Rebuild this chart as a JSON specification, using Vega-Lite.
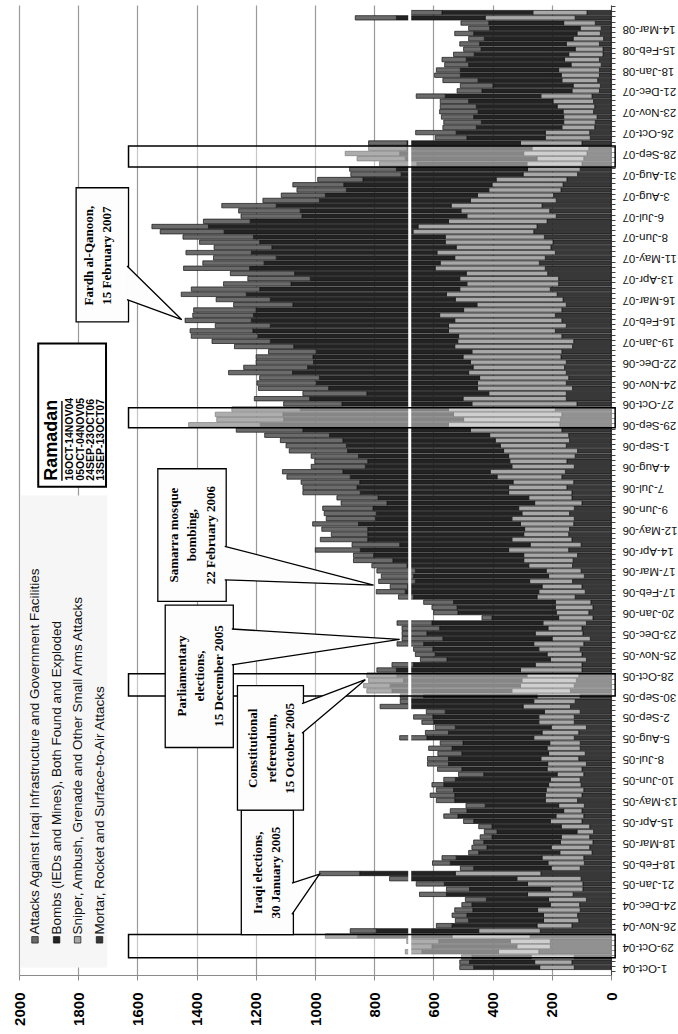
{
  "$schema": "https://vega.github.io/schema/vega-lite/v6.json",
  "width": 592,
  "height": 970,
  "autosize": "none",
  "padding": {"left": 19, "top": 5, "right": 67, "bottom": 59},
  "background": "white",
  "config": {"view": {"stroke": null}, "font": "Liberation Sans"},
  "datasets": {
    "weeks": [
      {"d":"2004-10-01","m":124,"s":117,"b":223,"a":47},
      {"d":"2004-10-08","m":132,"s":126,"b":220,"a":33},
      {"d":"2004-10-15","m":124,"s":146,"b":200,"a":35},
      {"d":"2004-10-22","m":244,"s":136,"b":259,"a":56},
      {"d":"2004-10-29","m":205,"s":113,"b":287,"a":75},
      {"d":"2004-11-05","m":205,"s":135,"b":242,"a":108},
      {"d":"2004-11-12","m":273,"s":264,"b":319,"a":109},
      {"d":"2004-11-19","m":239,"s":208,"b":346,"a":88},
      {"d":"2004-11-26","m":132,"s":118,"b":287,"a":53},
      {"d":"2004-12-03","m":109,"s":119,"b":253,"a":45},
      {"d":"2004-12-10","m":113,"s":115,"b":259,"a":50},
      {"d":"2004-12-17","m":104,"s":144,"b":219,"a":61},
      {"d":"2004-12-24","m":106,"s":99,"b":265,"a":34},
      {"d":"2004-12-31","m":83,"s":128,"b":210,"a":71},
      {"d":"2005-01-07","m":128,"s":154,"b":274,"a":91},
      {"d":"2005-01-14","m":95,"s":110,"b":273,"a":78},
      {"d":"2005-01-21","m":95,"s":187,"b":281,"a":95},
      {"d":"2005-01-28","m":101,"s":217,"b":360,"a":70},
      {"d":"2005-02-04","m":237,"s":289,"b":323,"a":136},
      {"d":"2005-02-11","m":104,"s":98,"b":262,"a":45},
      {"d":"2005-02-18","m":90,"s":123,"b":330,"a":60},
      {"d":"2005-02-25","m":92,"s":141,"b":290,"a":48},
      {"d":"2005-03-04","m":64,"s":109,"b":274,"a":34},
      {"d":"2005-03-11","m":72,"s":130,"b":217,"a":51},
      {"d":"2005-03-18","m":61,"s":110,"b":259,"a":34},
      {"d":"2005-03-25","m":72,"s":96,"b":234,"a":40},
      {"d":"2005-04-01","m":59,"s":56,"b":270,"a":43},
      {"d":"2005-04-08","m":72,"s":96,"b":234,"a":45},
      {"d":"2005-04-15","m":98,"s":107,"b":259,"a":34},
      {"d":"2005-04-22","m":92,"s":94,"b":331,"a":48},
      {"d":"2005-04-29","m":98,"s":62,"b":327,"a":56},
      {"d":"2005-05-06","m":90,"s":87,"b":248,"a":65},
      {"d":"2005-05-13","m":113,"s":109,"b":306,"a":62},
      {"d":"2005-05-20","m":98,"s":124,"b":306,"a":83},
      {"d":"2005-05-27","m":92,"s":127,"b":313,"a":58},
      {"d":"2005-06-03","m":101,"s":110,"b":354,"a":40},
      {"d":"2005-06-10","m":104,"s":101,"b":321,"a":39},
      {"d":"2005-06-17","m":92,"s":90,"b":248,"a":85},
      {"d":"2005-06-24","m":98,"s":118,"b":288,"a":82},
      {"d":"2005-07-01","m":83,"s":131,"b":335,"a":71},
      {"d":"2005-07-08","m":109,"s":128,"b":312,"a":71},
      {"d":"2005-07-15","m":87,"s":124,"b":293,"a":81},
      {"d":"2005-07-22","m":104,"s":112,"b":321,"a":79},
      {"d":"2005-07-29","m":104,"s":103,"b":293,"a":77},
      {"d":"2005-08-05","m":124,"s":137,"b":361,"a":92},
      {"d":"2005-08-12","m":109,"s":124,"b":316,"a":78},
      {"d":"2005-08-19","m":83,"s":119,"b":324,"a":68},
      {"d":"2005-08-26","m":124,"s":120,"b":355,"a":40},
      {"d":"2005-09-02","m":124,"s":120,"b":358,"a":65},
      {"d":"2005-09-09","m":104,"s":121,"b":335,"a":64},
      {"d":"2005-09-16","m":137,"s":160,"b":387,"a":96},
      {"d":"2005-09-23","m":121,"s":140,"b":417,"a":34},
      {"d":"2005-09-30","m":104,"s":146,"b":383,"a":79},
      {"d":"2005-10-07","m":137,"s":198,"b":405,"a":85},
      {"d":"2005-10-14","m":124,"s":182,"b":440,"a":90},
      {"d":"2005-10-21","m":117,"s":184,"b":400,"a":118},
      {"d":"2005-10-28","m":109,"s":175,"b":439,"a":102},
      {"d":"2005-11-04","m":98,"s":208,"b":419,"a":66},
      {"d":"2005-11-11","m":98,"s":158,"b":411,"a":73},
      {"d":"2005-11-18","m":83,"s":122,"b":349,"a":90},
      {"d":"2005-11-25","m":98,"s":118,"b":378,"a":67},
      {"d":"2005-12-02","m":104,"s":140,"b":358,"a":65},
      {"d":"2005-12-09","m":92,"s":169,"b":372,"a":90},
      {"d":"2005-12-16","m":70,"s":129,"b":369,"a":138},
      {"d":"2005-12-23","m":95,"s":161,"b":366,"a":84},
      {"d":"2005-12-30","m":98,"s":115,"b":366,"a":127},
      {"d":"2006-01-06","m":83,"s":147,"b":375,"a":118},
      {"d":"2006-01-13","m":61,"s":116,"b":225,"a":34},
      {"d":"2006-01-20","m":75,"s":110,"b":332,"a":82},
      {"d":"2006-01-27","m":61,"s":127,"b":332,"a":85},
      {"d":"2006-02-03","m":68,"s":120,"b":344,"a":101},
      {"d":"2006-02-10","m":121,"s":129,"b":417,"a":51},
      {"d":"2006-02-17","m":87,"s":157,"b":451,"a":98},
      {"d":"2006-02-24","m":98,"s":135,"b":454,"a":59},
      {"d":"2006-03-03","m":130,"s":145,"b":386,"a":124},
      {"d":"2006-03-10","m":90,"s":121,"b":456,"a":109},
      {"d":"2006-03-17","m":101,"s":118,"b":442,"a":130},
      {"d":"2006-03-24","m":130,"s":148,"b":411,"a":119},
      {"d":"2006-03-31","m":128,"s":167,"b":442,"a":133},
      {"d":"2006-04-07","m":113,"s":182,"b":507,"a":68},
      {"d":"2006-04-14","m":143,"s":203,"b":501,"a":152},
      {"d":"2006-04-21","m":101,"s":172,"b":441,"a":161},
      {"d":"2006-04-28","m":132,"s":203,"b":487,"a":160},
      {"d":"2006-05-05","m":143,"s":152,"b":527,"a":123},
      {"d":"2006-05-12","m":140,"s":152,"b":530,"a":155},
      {"d":"2006-05-19","m":126,"s":180,"b":547,"a":155},
      {"d":"2006-05-26","m":124,"s":211,"b":461,"a":166},
      {"d":"2006-06-02","m":140,"s":161,"b":492,"a":176},
      {"d":"2006-06-09","m":124,"s":188,"b":492,"a":170},
      {"d":"2006-06-16","m":98,"s":160,"b":499,"a":155},
      {"d":"2006-06-23","m":132,"s":146,"b":509,"a":139},
      {"d":"2006-06-30","m":132,"s":214,"b":501,"a":194},
      {"d":"2006-07-07","m":149,"s":197,"b":512,"a":183},
      {"d":"2006-07-14","m":126,"s":205,"b":518,"a":198},
      {"d":"2006-07-21","m":166,"s":219,"b":496,"a":214},
      {"d":"2006-07-28","m":154,"s":254,"b":498,"a":204},
      {"d":"2006-08-04","m":124,"s":211,"b":495,"a":183},
      {"d":"2006-08-11","m":149,"s":193,"b":480,"a":179},
      {"d":"2006-08-18","m":121,"s":225,"b":507,"a":160},
      {"d":"2006-08-25","m":113,"s":250,"b":527,"a":197},
      {"d":"2006-09-01","m":151,"s":223,"b":520,"a":204},
      {"d":"2006-09-08","m":140,"s":251,"b":515,"a":211},
      {"d":"2006-09-15","m":143,"s":267,"b":541,"a":219},
      {"d":"2006-09-22","m":166,"s":309,"b":566,"a":225},
      {"d":"2006-09-29","m":173,"s":376,"b":636,"a":242},
      {"d":"2006-10-06","m":171,"s":327,"b":608,"a":226},
      {"d":"2006-10-13","m":166,"s":366,"b":576,"a":229},
      {"d":"2006-10-20","m":188,"s":361,"b":501,"a":231},
      {"d":"2006-10-27","m":115,"s":355,"b":439,"a":197},
      {"d":"2006-11-03","m":151,"s":349,"b":518,"a":187},
      {"d":"2006-11-10","m":151,"s":262,"b":412,"a":216},
      {"d":"2006-11-17","m":130,"s":321,"b":503,"a":237},
      {"d":"2006-11-24","m":151,"s":300,"b":545,"a":200},
      {"d":"2006-12-01","m":143,"s":301,"b":541,"a":202},
      {"d":"2006-12-08","m":151,"s":330,"b":595,"a":216},
      {"d":"2006-12-15","m":157,"s":309,"b":559,"a":216},
      {"d":"2006-12-22","m":151,"s":324,"b":530,"a":194},
      {"d":"2006-12-29","m":169,"s":331,"b":507,"a":192},
      {"d":"2007-01-05","m":166,"s":304,"b":526,"a":161},
      {"d":"2007-01-12","m":130,"s":398,"b":544,"a":200},
      {"d":"2007-01-19","m":126,"s":392,"b":633,"a":197},
      {"d":"2007-01-26","m":166,"s":349,"b":678,"a":225},
      {"d":"2007-02-02","m":188,"s":361,"b":661,"a":212},
      {"d":"2007-02-09","m":151,"s":398,"b":602,"a":186},
      {"d":"2007-02-16","m":166,"s":362,"b":687,"a":224},
      {"d":"2007-02-23","m":188,"s":391,"b":629,"a":205},
      {"d":"2007-03-02","m":166,"s":332,"b":701,"a":211},
      {"d":"2007-03-09","m":151,"s":302,"b":622,"a":200},
      {"d":"2007-03-16","m":162,"s":364,"b":625,"a":183},
      {"d":"2007-03-23","m":182,"s":374,"b":676,"a":220},
      {"d":"2007-03-30","m":205,"s":306,"b":676,"a":231},
      {"d":"2007-04-06","m":177,"s":310,"b":594,"a":228},
      {"d":"2007-04-13","m":177,"s":334,"b":505,"a":211},
      {"d":"2007-04-20","m":214,"s":275,"b":580,"a":217},
      {"d":"2007-04-27","m":222,"s":372,"b":627,"a":223},
      {"d":"2007-05-04","m":242,"s":335,"b":595,"a":207},
      {"d":"2007-05-11","m":222,"s":306,"b":603,"a":212},
      {"d":"2007-05-18","m":188,"s":400,"b":627,"a":221},
      {"d":"2007-05-25","m":203,"s":320,"b":623,"a":195},
      {"d":"2007-06-01","m":196,"s":364,"b":627,"a":203},
      {"d":"2007-06-08","m":225,"s":335,"b":648,"a":238},
      {"d":"2007-06-15","m":261,"s":408,"b":638,"a":216},
      {"d":"2007-06-22","m":250,"s":402,"b":708,"a":191},
      {"d":"2007-06-29","m":216,"s":333,"b":670,"a":158},
      {"d":"2007-07-06","m":185,"s":302,"b":557,"a":206},
      {"d":"2007-07-13","m":207,"s":300,"b":543,"a":208},
      {"d":"2007-07-20","m":233,"s":307,"b":591,"a":184},
      {"d":"2007-07-27","m":185,"s":290,"b":510,"a":191},
      {"d":"2007-08-03","m":194,"s":257,"b":514,"a":149},
      {"d":"2007-08-10","m":169,"s":244,"b":481,"a":167},
      {"d":"2007-08-17","m":162,"s":240,"b":501,"a":172},
      {"d":"2007-08-24","m":149,"s":239,"b":450,"a":153},
      {"d":"2007-08-31","m":113,"s":184,"b":412,"a":170},
      {"d":"2007-09-07","m":104,"s":178,"b":443,"a":158},
      {"d":"2007-09-14","m":98,"s":186,"b":372,"a":126},
      {"d":"2007-09-21","m":92,"s":158,"b":445,"a":163},
      {"d":"2007-09-28","m":81,"s":214,"b":419,"a":184},
      {"d":"2007-10-05","m":75,"s":192,"b":422,"a":130},
      {"d":"2007-10-12","m":98,"s":208,"b":383,"a":130},
      {"d":"2007-10-19","m":70,"s":152,"b":265,"a":107},
      {"d":"2007-10-26","m":72,"s":150,"b":301,"a":137},
      {"d":"2007-11-02","m":55,"s":111,"b":289,"a":113},
      {"d":"2007-11-09","m":53,"s":107,"b":278,"a":127},
      {"d":"2007-11-16","m":47,"s":113,"b":304,"a":109},
      {"d":"2007-11-23","m":59,"s":103,"b":287,"a":130},
      {"d":"2007-11-30","m":55,"s":127,"b":273,"a":122},
      {"d":"2007-12-07","m":59,"s":137,"b":285,"a":96},
      {"d":"2007-12-14","m":64,"s":173,"b":323,"a":98},
      {"d":"2007-12-21","m":39,"s":93,"b":304,"a":84},
      {"d":"2007-12-28","m":36,"s":92,"b":271,"a":110},
      {"d":"2008-01-04","m":45,"s":121,"b":283,"a":119},
      {"d":"2008-01-11","m":39,"s":129,"b":341,"a":87},
      {"d":"2008-01-18","m":39,"s":138,"b":332,"a":81},
      {"d":"2008-01-25","m":33,"s":102,"b":346,"a":81},
      {"d":"2008-02-01","m":39,"s":118,"b":332,"a":82},
      {"d":"2008-02-08","m":27,"s":116,"b":319,"a":70},
      {"d":"2008-02-15","m":27,"s":94,"b":318,"a":59},
      {"d":"2008-02-22","m":39,"s":112,"b":293,"a":67},
      {"d":"2008-02-29","m":25,"s":103,"b":300,"a":53},
      {"d":"2008-03-07","m":36,"s":79,"b":349,"a":64},
      {"d":"2008-03-14","m":33,"s":71,"b":306,"a":71},
      {"d":"2008-03-21","m":53,"s":107,"b":253,"a":94},
      {"d":"2008-03-28","m":121,"s":304,"b":300,"a":139},
      {"d":"2008-04-04","m":81,"s":183,"b":307,"a":104}
    ],
    "boxes": [
      {"id":"iraqi","v1":1073,"v2":1249,"t1":"2004-11-14","t2":"2005-04-30"},
      {"id":"const","v1":1039,"v2":1262,"t1":"2005-04-30","t2":"2005-10-14"},
      {"id":"parl","v1":1276,"v2":1506,"t1":"2005-07-23","t2":"2006-01-30"},
      {"id":"samarra","v1":1300,"v2":1531,"t1":"2006-02-04","t2":"2006-08-01"},
      {"id":"fardh","v1":1630,"v2":1807,"t1":"2007-02-14","t2":"2007-08-13"}
    ],
    "pointers": [
      {"id":"iraqi","o":1,"v":1078,"t":"2005-01-22"},
      {"id":"iraqi","o":2,"v":985,"t":"2005-02-03"},
      {"id":"iraqi","o":3,"v":1078,"t":"2004-12-11"},
      {"id":"const","o":1,"v":1044,"t":"2005-09-20"},
      {"id":"const","o":2,"v":830,"t":"2005-10-22"},
      {"id":"const","o":3,"v":1044,"t":"2005-08-11"},
      {"id":"parl","o":1,"v":1281,"t":"2005-12-29"},
      {"id":"parl","o":2,"v":714,"t":"2005-12-15"},
      {"id":"parl","o":3,"v":1281,"t":"2005-11-11"},
      {"id":"samarra","o":1,"v":1305,"t":"2006-04-19"},
      {"id":"samarra","o":2,"v":802,"t":"2006-02-26"},
      {"id":"samarra","o":3,"v":1305,"t":"2006-03-05"},
      {"id":"fardh","o":1,"v":1635,"t":"2007-04-30"},
      {"id":"fardh","o":2,"v":1450,"t":"2007-02-17"},
      {"id":"fardh","o":3,"v":1635,"t":"2007-03-16"}
    ],
    "notes": [
      {"v":1194,"t":"2005-02-05","label":"Iraqi elections,\n30 January 2005"},
      {"v":1208,"t":"2005-07-22","label":"Constitutional\nreferendum,\n15 October 2005"},
      {"v":1450,"t":"2005-10-27","label":"Parliamentary\nelections,\n15 December 2005"},
      {"v":1478,"t":"2006-05-04","label":"Samarra mosque\nbombing,\n22 February 2006"},
      {"v":1764,"t":"2007-05-14","label":"Fardh al-Qanoon,\n15 February 2007"}
    ],
    "legend": [
      {"v":1946,"series":"a","label":"Attacks Against Iraqi Infrastructure and Government Facilities"},
      {"v":1873,"series":"b","label":"Bombs (IEDs and Mines), Both Found and Exploded"},
      {"v":1802,"series":"s","label":"Sniper, Ambush, Grenade and Other Small Arms Attacks"},
      {"v":1728,"series":"m","label":"Mortar, Rocket and Surface-to-Air Attacks"}
    ],
    "ramadan": [
      {"v": 1827, "label": "16OCT-14NOV04"},
      {"v": 1792, "label": "05OCT-04NOV05"},
      {"v": 1757, "label": "24SEP-23OCT06"},
      {"v": 1722, "label": "13SEP-13OCT07"}
    ]
  },
  "layer": [
    {
      "data": {"name": "weeks"},
      "transform": [
        {"fold": ["m", "s", "b", "a"], "as": ["series", "n"]},
        {"lookup": "series", "from": {"data": {"values": [{"series":"m","rank":1},{"series":"s","rank":2},{"series":"b","rank":3},{"series":"a","rank":4}]}, "key": "series", "fields": ["rank"]}}
      ],
      "mark": {"type": "bar", "orient": "horizontal", "size": 4.4, "stroke": "#141414", "strokeWidth": 0.7},
      "encoding": {
        "y": {
          "field": "d", "type": "temporal", "title": null,
          "scale": {"type": "utc", "domain": [{"year":2004,"month":9,"date":27,"hours":12,"utc":true},{"year":2008,"month":4,"date":7,"hours":12,"utc":true}]},
          "axis": {
            "orient": "right",
            "values": [
              {"year":2004,"month":10,"date":1,"utc":true},{"year":2004,"month":10,"date":29,"utc":true},{"year":2004,"month":11,"date":26,"utc":true},{"year":2004,"month":12,"date":24,"utc":true},
              {"year":2005,"month":1,"date":21,"utc":true},{"year":2005,"month":2,"date":18,"utc":true},{"year":2005,"month":3,"date":18,"utc":true},{"year":2005,"month":4,"date":15,"utc":true},
              {"year":2005,"month":5,"date":13,"utc":true},{"year":2005,"month":6,"date":10,"utc":true},{"year":2005,"month":7,"date":8,"utc":true},{"year":2005,"month":8,"date":5,"utc":true},
              {"year":2005,"month":9,"date":2,"utc":true},{"year":2005,"month":9,"date":30,"utc":true},{"year":2005,"month":10,"date":28,"utc":true},{"year":2005,"month":11,"date":25,"utc":true},
              {"year":2005,"month":12,"date":23,"utc":true},{"year":2006,"month":1,"date":20,"utc":true},{"year":2006,"month":2,"date":17,"utc":true},{"year":2006,"month":3,"date":17,"utc":true},
              {"year":2006,"month":4,"date":14,"utc":true},{"year":2006,"month":5,"date":12,"utc":true},{"year":2006,"month":6,"date":9,"utc":true},{"year":2006,"month":7,"date":7,"utc":true},
              {"year":2006,"month":8,"date":4,"utc":true},{"year":2006,"month":9,"date":1,"utc":true},{"year":2006,"month":9,"date":29,"utc":true},{"year":2006,"month":10,"date":27,"utc":true},
              {"year":2006,"month":11,"date":24,"utc":true},{"year":2006,"month":12,"date":22,"utc":true},{"year":2007,"month":1,"date":19,"utc":true},{"year":2007,"month":2,"date":16,"utc":true},
              {"year":2007,"month":3,"date":16,"utc":true},{"year":2007,"month":4,"date":13,"utc":true},{"year":2007,"month":5,"date":11,"utc":true},{"year":2007,"month":6,"date":8,"utc":true},
              {"year":2007,"month":7,"date":6,"utc":true},{"year":2007,"month":8,"date":3,"utc":true},{"year":2007,"month":8,"date":31,"utc":true},{"year":2007,"month":9,"date":28,"utc":true},
              {"year":2007,"month":10,"date":26,"utc":true},{"year":2007,"month":11,"date":23,"utc":true},{"year":2007,"month":12,"date":21,"utc":true},{"year":2008,"month":1,"date":18,"utc":true},
              {"year":2008,"month":2,"date":15,"utc":true},{"year":2008,"month":3,"date":14,"utc":true}
            ],
            "format": "%-d-%b-%y",
            "ticks": false,
            "domain": true,
            "domainColor": "#444444",
            "grid": false,
            "labelAngle": 180,
            "labelAlign": "right",
            "labelBaseline": "middle",
            "labelFont": "Liberation Sans",
            "labelFontSize": 11.5,
            "labelColor": "#111111",
            "labelPadding": 11,
            "labelOverlap": false,
            "title": null
          }
        },
        "x": {
          "field": "n", "type": "quantitative", "stack": "zero", "title": null,
          "scale": {"domain": [0, 2000], "reverse": true, "nice": false, "zero": true},
          "axis": {
            "orient": "bottom",
            "values": [0, 200, 400, 600, 800, 1000, 1200, 1400, 1600, 1800, 2000],
            "format": "d",
            "grid": true,
            "gridColor": "#9a9a9a",
            "gridWidth": 1.2,
            "domainColor": "#8a8a8a",
            "tickColor": "#8a8a8a",
            "tickSize": 5,
            "labelAngle": -90,
            "labelAlign": "right",
            "labelBaseline": "middle",
            "labelFont": "Liberation Sans",
            "labelFontSize": 15,
            "labelFontWeight": "bold",
            "labelColor": "#000000",
            "labelPadding": 12,
            "labelOverlap": false,
            "title": null
          }
        },
        "color": {
          "field": "series", "type": "nominal", "legend": null,
          "scale": {"domain": ["a", "b", "s", "m"], "range": ["#6b6b6b", "#232323", "#a8a8a8", "#383838"]}
        },
        "order": {"field": "rank", "type": "quantitative"}
      }
    },
    {
      "data": {"values": [{"v": 680}]},
      "mark": {"type": "rule", "stroke": "white", "strokeWidth": 3},
      "encoding": {"x": {"field": "v", "type": "quantitative", "title": null}}
    },
    {
      "data": {"values": [
        {"t1": "2004-10-14", "t2": "2004-11-14"},
        {"t1": "2005-09-30", "t2": "2005-10-30"},
        {"t1": "2006-09-25", "t2": "2006-10-22"},
        {"t1": "2007-09-10", "t2": "2007-10-08"}
      ]},
      "mark": {"type": "rect", "fill": "white", "fillOpacity": 0.45, "stroke": "black", "strokeWidth": 1.5},
      "encoding": {
        "x": {"datum": -14, "type": "quantitative", "title": null},
        "x2": {"datum": 1630},
        "y": {"field": "t1", "type": "temporal", "title": null,
          "axis": {"orient": "right", "tickCount": {"interval": "week", "step": 1}, "labels": false, "domain": false, "ticks": true, "tickSize": 4, "tickColor": "#444444", "grid": false, "title": null}},
        "y2": {"field": "t2"}
      }
    },
    {
      "data": {"values": [{"v1": 1702, "v2": 1996, "t1": "2004-10-01", "t2": "2006-06-26"}]},
      "mark": {"type": "rect", "fill": "#f6f6f6"},
      "encoding": {
        "x": {"field": "v1", "type": "quantitative", "title": null},
        "x2": {"field": "v2"},
        "y": {"field": "t1", "type": "temporal", "title": null, "axis": null},
        "y2": {"field": "t2"}
      }
    },
    {
      "data": {"name": "boxes"},
      "mark": {"type": "rect", "fill": "#fdfdfd", "stroke": "black", "strokeWidth": 1.3},
      "encoding": {
        "x": {"field": "v1", "type": "quantitative", "title": null},
        "x2": {"field": "v2"},
        "y": {"field": "t1", "type": "temporal", "title": null, "axis": null},
        "y2": {"field": "t2"}
      }
    },
    {
      "data": {"name": "pointers"},
      "mark": {"type": "line", "fill": "#fdfdfd", "stroke": "black", "strokeWidth": 1.3, "strokeJoin": "miter"},
      "encoding": {
        "x": {"field": "v", "type": "quantitative", "title": null},
        "y": {"field": "t", "type": "temporal", "title": null, "axis": null},
        "detail": {"field": "id", "type": "nominal"},
        "order": {"field": "o", "type": "quantitative"}
      }
    },
    {
      "data": {"name": "notes"},
      "mark": {"type": "text", "angle": 270, "align": "center", "baseline": "middle", "font": "Liberation Serif", "fontWeight": "bold", "fontSize": 13, "lineHeight": 18.5, "lineBreak": "\n", "color": "#000000"},
      "encoding": {
        "x": {"field": "v", "type": "quantitative", "title": null},
        "y": {"field": "t", "type": "temporal", "title": null, "axis": null},
        "text": {"field": "label", "type": "nominal"}
      }
    },
    {
      "data": {"name": "legend"},
      "mark": {"type": "square", "size": 42, "filled": true, "stroke": "#111111", "strokeWidth": 0.7, "opacity": 1},
      "encoding": {
        "x": {"field": "v", "type": "quantitative", "title": null},
        "y": {"datum": {"year": 2004, "month": 11, "date": 7, "utc": true}, "type": "temporal", "axis": null},
        "color": {"field": "series", "type": "nominal", "legend": null}
      }
    },
    {
      "data": {"name": "legend"},
      "mark": {"type": "text", "angle": 270, "align": "left", "baseline": "middle", "font": "Liberation Sans", "fontSize": 13.5, "color": "#111111"},
      "encoding": {
        "x": {"field": "v", "type": "quantitative", "title": null},
        "y": {"datum": {"year": 2004, "month": 11, "date": 14, "utc": true}, "type": "temporal", "axis": null},
        "text": {"field": "label", "type": "nominal"}
      }
    },
    {
      "data": {"values": [{"v1": 1706, "v2": 1935, "t1": "2006-07-08", "t2": "2007-01-16"}]},
      "mark": {"type": "rect", "fill": "white", "stroke": "black", "strokeWidth": 2},
      "encoding": {
        "x": {"field": "v1", "type": "quantitative", "title": null},
        "x2": {"field": "v2"},
        "y": {"field": "t1", "type": "temporal", "title": null, "axis": null},
        "y2": {"field": "t2"}
      }
    },
    {
      "data": {"values": [{"v": 1888, "label": "Ramadan"}]},
      "mark": {"type": "text", "angle": 270, "align": "left", "baseline": "middle", "font": "Liberation Sans", "fontWeight": "bold", "fontSize": 18, "color": "#000000"},
      "encoding": {
        "x": {"field": "v", "type": "quantitative", "title": null},
        "y": {"datum": {"year": 2006, "month": 7, "date": 16, "utc": true}, "type": "temporal", "axis": null},
        "text": {"field": "label", "type": "nominal"}
      }
    },
    {
      "data": {"values": [{"v": 1855, "t1": "2006-07-16", "t2": "2006-10-31"}]},
      "mark": {"type": "rule", "stroke": "black", "strokeWidth": 1.4},
      "encoding": {
        "x": {"field": "v", "type": "quantitative", "title": null},
        "y": {"field": "t1", "type": "temporal", "title": null, "axis": null},
        "y2": {"field": "t2"}
      }
    },
    {
      "data": {"name": "ramadan"},
      "mark": {"type": "text", "angle": 270, "align": "left", "baseline": "middle", "font": "Liberation Sans Narrow, Liberation Sans", "fontWeight": "bold", "fontSize": 10.5, "color": "#000000"},
      "encoding": {
        "x": {"field": "v", "type": "quantitative", "title": null},
        "y": {"datum": {"year": 2006, "month": 7, "date": 16, "utc": true}, "type": "temporal", "axis": null},
        "text": {"field": "label", "type": "nominal"}
      }
    }
  ],
  "resolve": {"axis": {"y": "independent"}}
}
